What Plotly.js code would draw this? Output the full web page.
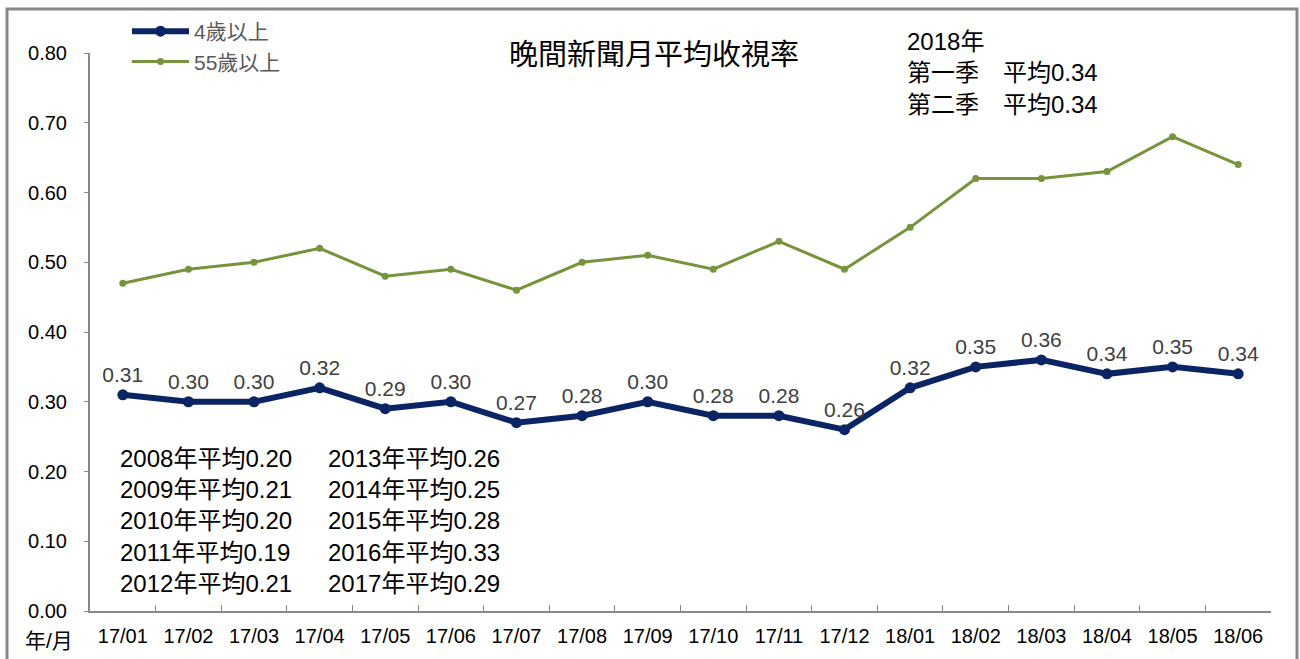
<!DOCTYPE html>
<html><head><meta charset="utf-8">
<script src="https://cdn.plot.ly/plotly-3.0.1.min.js"></script>
<style>body{margin:0;background:#fff}#c{width:1300px;height:659px}</style>
</head><body><div id="c"></div>
<script>
const months = ["17/01","17/02","17/03","17/04","17/05","17/06","17/07","17/08","17/09","17/10","17/11","17/12","18/01","18/02","18/03","18/04","18/05","18/06"];
const age4 = [0.31,0.30,0.30,0.32,0.29,0.30,0.27,0.28,0.30,0.28,0.28,0.26,0.32,0.35,0.36,0.34,0.35,0.34];
const age55 = [0.47,0.49,0.50,0.52,0.48,0.49,0.46,0.50,0.51,0.49,0.53,0.49,0.55,0.62,0.62,0.63,0.68,0.64];
const yearNotesLeft = ["2008年平均0.20","2009年平均0.21","2010年平均0.20","2011年平均0.19","2012年平均0.21"];
const yearNotesRight = ["2013年平均0.26","2014年平均0.25","2015年平均0.28","2016年平均0.33","2017年平均0.29"];
const quarterNotes = ["2018年","第一季　平均0.34","第二季　平均0.34"];

const FONT = "Liberation Sans, Arial, Noto Sans CJK TC, sans-serif";
const traces = [
  {x: months, y: age4, name: "4歲以上", type: "scatter", mode: "lines+markers+text",
   line: {color: "#0B2463", width: 6}, marker: {color: "#0B2463", size: 11},
   text: age4.map(v => v.toFixed(2)), textposition: "top center",
   textfont: {size: 21, color: "#404040", family: FONT}},
  {x: months, y: age55, name: "55歲以上", type: "scatter", mode: "lines+markers",
   line: {color: "#77933C", width: 3}, marker: {color: "#77933C", size: 7}}
];

const annotations = [];
yearNotesLeft.forEach((t, i) => annotations.push({text: t, xref: "paper", yref: "paper",
  x: (118 - 90) / 1181, y: (611 - (458 + i * 31.3)) / 559, xanchor: "left", yanchor: "middle",
  showarrow: false, font: {size: 24, color: "#000", family: FONT}}));
yearNotesRight.forEach((t, i) => annotations.push({text: t, xref: "paper", yref: "paper",
  x: (326 - 90) / 1181, y: (611 - (458 + i * 31.3)) / 559, xanchor: "left", yanchor: "middle",
  showarrow: false, font: {size: 24, color: "#000", family: FONT}}));
quarterNotes.forEach((t, i) => annotations.push({text: t, xref: "paper", yref: "paper",
  x: (905 - 90) / 1181, y: (611 - (40 + i * 32)) / 559, xanchor: "left", yanchor: "middle",
  showarrow: false, font: {size: 24, color: "#000", family: FONT}}));
annotations.push({text: "年/月", xref: "paper", yref: "paper", x: (23 - 90) / 1181, y: (611 - 641) / 559,
  xanchor: "left", yanchor: "middle", showarrow: false, font: {size: 21, color: "#000", family: FONT}});

const layout = {
  width: 1300, height: 659,
  margin: {l: 90, r: 29, t: 52, b: 48},
  paper_bgcolor: "#fff", plot_bgcolor: "#fff",
  font: {family: FONT},
  title: {text: "晚間新聞月平均收視率", x: 654 / 1300, xanchor: "center", y: 1 - 55 / 659, yanchor: "middle",
    font: {size: 29, color: "#000", family: FONT}},
  showlegend: true,
  legend: {x: (127 - 90) / 1181, y: 1 + (52 - 11) / 559, xanchor: "left", yanchor: "top",
    font: {size: 21, color: "#595959", family: FONT}, bgcolor: "rgba(0,0,0,0)", tracegroupgap: 0, itemwidth: 57},
  xaxis: {type: "category", tickson: "boundaries", ticks: "inside", ticklen: 6, tickcolor: "#888",
    showline: true, linecolor: "#888", linewidth: 2, showgrid: false, zeroline: false,
    ticklabelstandoff: 6,
    tickfont: {size: 20, color: "#000", family: FONT}, range: [-0.5, 17.5], fixedrange: true},
  yaxis: {range: [0, 0.8], dtick: 0.1, tickformat: ".2f", ticks: "outside", ticklen: 4, tickcolor: "#888",
    showline: true, linecolor: "#888", linewidth: 2, showgrid: false, zeroline: false,
    ticklabelstandoff: 13,
    tickfont: {size: 20, color: "#000", family: FONT}},
  annotations: annotations,
  shapes: [{type: "rect", xref: "paper", yref: "paper",
    x0: (7 - 90) / 1181, x1: (1297 - 90) / 1181, y0: (611 - 665) / 559, y1: (611 - 8) / 559,
    line: {color: "#888", width: 3}, fillcolor: "rgba(0,0,0,0)", layer: "below"}]
};
Plotly.newPlot("c", traces, layout, {displayModeBar: false, staticPlot: true});
</script></body></html>
